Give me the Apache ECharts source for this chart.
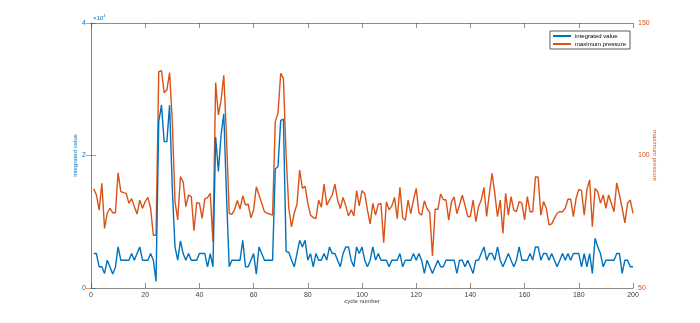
<!DOCTYPE html>
<html>
<head>
<meta charset="utf-8">
<script src="https://cdn.jsdelivr.net/npm/echarts@6/dist/echarts.min.js"></script>
<style>
  html, body { margin: 0; padding: 0; background: #ffffff; }
  #chart { width: 700px; height: 323px; }
</style>
</head>
<body>
<div id="chart"></div>
<script>
// Integrated value per cycle (left axis, raw units)
const integratedValue = [
  5200, 5200, 3200, 3200, 2200, 4200, 3200, 2100, 3100, 6200,
  4200, 4200, 4200, 4200, 5200, 4200, 5200, 6200, 4200, 4200,
  4200, 5200, 4200, 1000, 25100, 27600, 22100, 22100, 27600, 15000,
  6200, 4200, 7100, 5200, 4200, 5200, 4200, 4200, 4200, 5200,
  5200, 5200, 3200, 5200, 3200, 22800, 17600, 23100, 26300, 14000,
  3200, 4200, 4200, 4200, 4200, 7200, 3200, 3200, 4200, 5200,
  2100, 6200, 5200, 4200, 4200, 4200, 4200, 18000, 18300, 25300,
  25500, 5500, 5400, 4200, 3200, 5200, 7200, 6200, 7200, 4200,
  5200, 3200, 5200, 4200, 4200, 5200, 4200, 6200, 5200, 5200,
  4200, 3200, 5200, 6200, 6200, 4200, 3200, 6200, 5200, 6200,
  4200, 3200, 4200, 6200, 4200, 5200, 4200, 4200, 4200, 3200,
  4200, 4200, 4200, 5200, 3200, 4200, 4200, 4200, 5200, 4200,
  5200, 4200, 2200, 4200, 3200, 2200, 3200, 4200, 3200, 3200,
  4200, 4200, 4200, 4200, 2200, 4200, 4200, 3200, 4200, 3200,
  2200, 4200, 4200, 5200, 6200, 4200, 5200, 5200, 4200, 6200,
  4200, 3200, 4200, 5200, 4200, 3200, 4200, 6200, 4200, 4200,
  4200, 5200, 4200, 6200, 6200, 4200, 5200, 5200, 4200, 5200,
  4200, 3200, 4200, 5200, 4200, 5200, 4200, 5200, 5200, 5200,
  3200, 5200, 3200, 5200, 2200, 7500, 6200, 5200, 3200, 4200,
  4200, 4200, 4200, 5200, 5200, 2200, 4200, 4200, 3200, 3200
];

// Maximum pressure per cycle (right axis)
const maximumPressure = [
  87.4, 85.1, 79.4, 89.5, 72.5, 78.2, 80.1, 78.4, 78.4, 93.5,
  86.4, 86.0, 85.7, 82.0, 83.7, 80.7, 77.9, 83.2, 80.1, 82.6,
  84.2, 80.1, 69.9, 69.9, 131.6, 132.0, 123.7, 124.7, 131.3, 113.0,
  82.6, 75.7, 92.0, 90.1, 80.7, 85.1, 84.5, 71.6, 82.2, 82.0,
  76.3, 83.6, 84.1, 85.7, 67.5, 127.5, 115.3, 120.9, 130.3, 107.0,
  78.2, 77.8, 79.7, 83.0, 79.8, 84.8, 81.3, 81.7, 76.5, 79.4,
  88.2, 85.1, 82.0, 78.8, 78.2, 77.9, 77.5, 112.8, 115.9, 131.0,
  129.1, 100.0, 80.0, 73.1, 78.3, 81.6, 94.5, 87.6, 88.4, 82.0,
  77.5, 76.6, 76.2, 83.2, 80.5, 89.2, 81.3, 83.2, 85.0, 89.2,
  83.2, 80.0, 84.2, 81.0, 77.2, 79.5, 77.2, 86.7, 81.0, 86.7,
  85.7, 79.5, 74.2, 81.9, 77.5, 81.6, 81.9, 67.1, 82.5, 79.5,
  81.0, 84.2, 76.2, 88.0, 76.6, 75.6, 83.2, 78.1, 83.2, 87.6,
  78.4, 77.5, 82.9, 80.0, 78.4, 62.1, 79.7, 79.7, 85.4, 83.4,
  83.2, 75.6, 82.5, 84.4, 78.1, 81.3, 85.0, 81.3, 77.0, 77.0,
  83.2, 75.0, 80.7, 83.2, 88.0, 77.0, 85.7, 93.3, 85.7, 76.9,
  83.2, 70.6, 85.7, 77.5, 84.5, 79.4, 78.8, 82.6, 82.0, 75.7,
  84.5, 78.8, 78.8, 92.0, 91.8, 77.5, 82.6, 80.1, 73.8, 74.2,
  76.3, 78.2, 78.8, 78.8, 80.1, 83.5, 83.5, 76.9, 83.8, 87.2,
  86.7, 77.5, 87.2, 90.8, 73.1, 87.6, 86.3, 82.0, 85.1, 80.1,
  85.1, 82.0, 78.8, 89.7, 85.1, 80.1, 74.6, 82.0, 83.2, 78.2
];

// Axis tick values
const xTicks = [0, 20, 40, 60, 80, 100, 120, 140, 160, 180, 200];
const leftTicks = [0, 2, 4];        // in units of 10^4
const rightTicks = [50, 100, 150];

const seriesNames = ['integrated value', 'maximum pressure'];
const blue = '#0072BD';
const orange = '#D95319';
const axisGray = '#404040';

const toPairs = vals => vals.map((v, i) => [i + 1, v]);

const chart = echarts.init(document.getElementById('chart'), null, { renderer: 'canvas' });

const tickStyle = { show: true, inside: true, length: 5 };

chart.setOption({
  animation: false,
  backgroundColor: '#ffffff',
  textStyle: { fontFamily: 'Liberation Sans, Arial, sans-serif' },
  grid: { left: 91, right: 67, top: 23, bottom: 35, containLabel: false },
  legend: {
    data: seriesNames,
    orient: 'vertical',
    right: 70,
    top: 31,
    backgroundColor: '#ffffff',
    borderColor: '#333333',
    borderWidth: 0.8,
    borderRadius: 0,
    padding: [2, 4, 2, 3],
    itemGap: 2,
    itemWidth: 18,
    itemHeight: 2,
    icon: 'rect',
    textStyle: { fontSize: 6, color: '#000000', padding: [0, 0, 0, -1] }
  },
  xAxis: [
    {
      type: 'value',
      min: xTicks[0],
      max: xTicks[xTicks.length - 1],
      interval: xTicks[1] - xTicks[0],
      position: 'bottom',
      name: 'cycle number',
      nameLocation: 'middle',
      nameGap: 10,
      nameMoveOverlap: false,
      nameTextStyle: { fontSize: 6, color: axisGray },
      axisLine: { show: true, lineStyle: { color: axisGray, width: 0.6 } },
      axisTick: Object.assign({}, tickStyle, { lineStyle: { color: axisGray, width: 0.6 } }),
      axisLabel: { fontSize: 7, color: axisGray, margin: 4 },
      splitLine: { show: false }
    },
    {
      type: 'value',
      min: xTicks[0],
      max: xTicks[xTicks.length - 1],
      interval: xTicks[1] - xTicks[0],
      position: 'top',
      axisLine: { show: true, lineStyle: { color: axisGray, width: 0.6 } },
      axisTick: Object.assign({}, tickStyle, { lineStyle: { color: axisGray, width: 0.6 } }),
      axisLabel: { show: false },
      splitLine: { show: false }
    }
  ],
  yAxis: [
    {
      type: 'value',
      position: 'left',
      min: leftTicks[0] * 1e4,
      max: leftTicks[leftTicks.length - 1] * 1e4,
      interval: (leftTicks[1] - leftTicks[0]) * 1e4,
      name: 'integrated value',
      nameLocation: 'middle',
      nameGap: 13,
      nameMoveOverlap: false,
      nameTextStyle: { fontSize: 6, color: blue },
      axisLine: { show: true, lineStyle: { color: blue, width: 0.6 } },
      axisTick: Object.assign({}, tickStyle, { lineStyle: { color: blue, width: 0.6 } }),
      axisLabel: { fontSize: 7, color: blue, margin: 5, formatter: v => String(v / 1e4) },
      splitLine: { show: false }
    },
    {
      type: 'value',
      position: 'right',
      min: rightTicks[0],
      max: rightTicks[rightTicks.length - 1],
      interval: rightTicks[1] - rightTicks[0],
      name: 'maximum pressure',
      nameLocation: 'middle',
      nameGap: 19,
      nameRotate: -90,
      nameMoveOverlap: false,
      nameTextStyle: { fontSize: 6, color: orange },
      axisLine: { show: true, lineStyle: { color: orange, width: 0.6 } },
      axisTick: Object.assign({}, tickStyle, { lineStyle: { color: orange, width: 0.6 } }),
      axisLabel: { fontSize: 7, color: orange, margin: 5 },
      splitLine: { show: false }
    }
  ],
  graphic: [
    {
      type: 'text',
      left: 93,
      top: 14,
      style: {
        text: '×10{sup|4}',
        fill: blue,
        fontSize: 6,
        fontFamily: 'Liberation Sans, Arial, sans-serif',
        rich: { sup: { fontSize: 4, verticalAlign: 'top', padding: [0, 0, 4, 0], fill: blue } }
      }
    }
  ],
  series: [
    {
      name: seriesNames[0],
      type: 'line',
      xAxisIndex: 0,
      yAxisIndex: 0,
      data: toPairs(integratedValue),
      symbol: 'none',
      color: blue,
      lineStyle: { width: 1.4, color: blue },
      z: 3
    },
    {
      name: seriesNames[1],
      type: 'line',
      xAxisIndex: 0,
      yAxisIndex: 1,
      data: toPairs(maximumPressure),
      symbol: 'none',
      color: orange,
      lineStyle: { width: 1.4, color: orange },
      z: 2
    }
  ]
});
</script>
</body>
</html>
